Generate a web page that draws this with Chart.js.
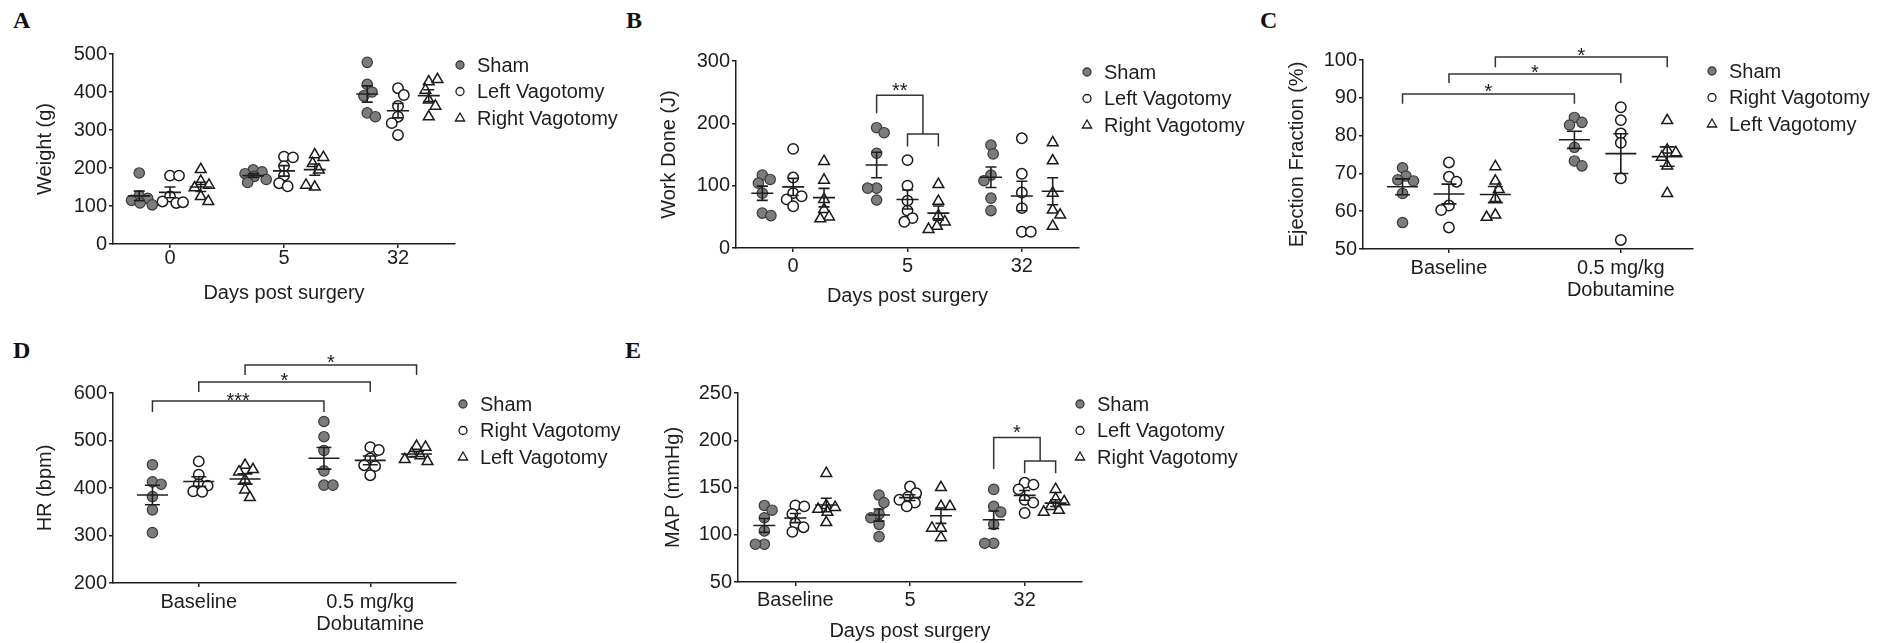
<!DOCTYPE html>
<html>
<head>
<meta charset="utf-8">
<script src="https://cdn.jsdelivr.net/npm/chart.js@4.4.1/dist/chart.umd.min.js"></script>
<style>
  body { margin: 0; width: 1894px; height: 643px; background: #fff; position: relative; overflow: hidden; }
  canvas { position: absolute; }
  .tag { position: absolute; font: bold 24px "Liberation Serif", "Times New Roman", serif; line-height: 24px; color: #111; }
</style>
</head>
<body>
<div class="tag" style="left:13px;top:8px">A</div>
<div class="tag" style="left:626px;top:8px">B</div>
<div class="tag" style="left:1260px;top:8px">C</div>
<div class="tag" style="left:13px;top:338px">D</div>
<div class="tag" style="left:625px;top:338px">E</div>

<canvas id="chartA" width="640" height="320" style="left:0;top:0"></canvas>
<canvas id="chartB" width="620" height="320" style="left:640px;top:0"></canvas>
<canvas id="chartC" width="634" height="320" style="left:1260px;top:0"></canvas>
<canvas id="chartD" width="620" height="313" style="left:0;top:330px"></canvas>
<canvas id="chartE" width="640" height="313" style="left:620px;top:330px"></canvas>

<script>
// ---- data (each inner array = one group at one time point) ----
const groupOffset = [-0.27, 0, 0.27];   // sham / circle group / triangle group

// A: body weight
const catsA = ['0', '5', '32'];
const legendA = ['Sham', 'Left Vagotomy', 'Right Vagotomy'];
const shamA  = [[187, 127, 120, 115, 108, 103], [195, 190, 185, 178, 170, 162], [478, 420, 400, 390, 345, 335]];
const leftA  = [[180, 180, 125, 112, 108, 110], [230, 228, 205, 180, 160, 152], [410, 392, 363, 335, 318, 287]];
const rightA = [[196, 165, 155, 148, 125, 112], [235, 228, 212, 195, 150, 155], [427, 433, 405, 379, 363, 335]];
const bracketsA = [];

// B: work done
const catsB = ['0', '5', '32'];
const legendB = ['Sham', 'Left Vagotomy', 'Right Vagotomy'];
const shamB  = [[117, 110, 104, 88, 56, 52], [193, 185, 152, 96, 96, 77], [165, 151, 117, 108, 80, 60]];
const leftB  = [[159, 113, 88, 83, 78, 67], [141, 100, 76, 60, 48, 42], [176, 119, 89, 64, 26, 26]];
const rightB = [[139, 109, 78, 62, 50, 47], [102, 75, 52, 42, 35, 30], [169, 140, 88, 61, 53, 35]];
const bracketsB = [
  { a: [1, 0], b: [1, 1.5], top: 245, ends: [216, 183], text: '**', textY: 261 },
  { a: [1, 1], b: [1, 2], top: 183, ends: [163, 163] },
];

// C: ejection fraction
const catsC = ['Baseline', ['0.5 mg/kg', 'Dobutamine']];
const legendC = ['Sham', 'Right Vagotomy', 'Left Vagotomy'];
const shamC  = [[71.5, 69.3, 68.3, 68, 64.7, 57], [84.8, 83.5, 82.8, 76.9, 73.3, 72]];
const rightC = [[72.9, 69.1, 67.8, 61.5, 60.3, 55.7], [87.5, 84.1, 80.6, 78.1, 68.7, 52.4]];
const leftC  = [[71.8, 68, 65.8, 63.4, 59, 58.4], [84, 76.2, 75.5, 74.3, 72, 64.7]];
const bracketsC = [
  { a: [0, 0], b: [1, 0], top: 91, ends: [88.4, 88.4], text: '*', textY: 92.9 },
  { a: [0, 1], b: [1, 1], top: 96.3, ends: [93.9, 93.9], text: '*', textY: 98.1 },
  { a: [0, 2], b: [1, 2], top: 100.8, ends: [98.1, 98.1], text: '*', textY: 102.5 },
];

// D: heart rate
const catsD = ['Baseline', ['0.5 mg/kg', 'Dobutamine']];
const legendD = ['Sham', 'Right Vagotomy', 'Left Vagotomy'];
const shamD  = [[449, 413, 408, 382, 354, 306], [540, 508, 479, 436, 406, 406]];
const rightD = [[456, 428, 408, 405, 393, 392], [486, 480, 462, 448, 446, 427]];
const leftD  = [[448, 439, 434, 417, 396, 380], [488, 486, 472, 468, 460, 456]];
const bracketsD = [
  { a: [0, 0], b: [1, 0], top: 583, ends: [560, 560], text: '***', textY: 596 },
  { a: [0, 1], b: [1, 1], top: 623, ends: [602, 602], text: '*', textY: 638 },
  { a: [0, 2], b: [1, 2], top: 659, ends: [638, 638], text: '*', textY: 674 },
];

// E: mean arterial pressure
const catsE = ['Baseline', '5', '32'];
const legendE = ['Sham', 'Left Vagotomy', 'Right Vagotomy'];
const shamE  = [[131, 126, 118, 104, 90, 90], [142, 134, 122, 118, 111, 98], [148, 130, 124, 111, 91, 91]];
const leftE  = [[131, 130, 122, 112, 108, 103], [151, 144, 140, 137, 134, 130], [155, 153, 148, 137, 134, 123]];
const rightE = [[165, 131, 129, 127, 124, 113], [150, 130, 130, 107, 107, 97], [148, 138, 135, 130, 126, 124]];
const bracketsE = [
  { a: [2, 0], b: [2, 1.5], top: 203, ends: [169.6, 178], text: '*', textY: 213.7 },
  { a: [2, 1], b: [2, 2], top: 178, ends: [165, 165] },
];

// ---- styling ----
const ink = '#1e1e1e';
const FONT = '"Liberation Sans", Arial, Helvetica, sans-serif';
Chart.defaults.font.family = FONT;
Chart.defaults.font.size = 20;
Chart.defaults.color = ink;

const markerStyles = [
  { pointStyle: 'circle', pointRadius: 5.2, pointBackgroundColor: '#7c7c7c', pointBorderColor: '#3a3a3a', pointBorderWidth: 1.2 },
  { pointStyle: 'circle', pointRadius: 5.2, pointBackgroundColor: '#ffffff', pointBorderColor: '#1a1a1a', pointBorderWidth: 1.5 },
  { pointStyle: 'triangle', pointRadius: 6.2, pointBackgroundColor: '#ffffff', pointBorderColor: '#1a1a1a', pointBorderWidth: 1.5 },
];

function mean(a) { return a.reduce((s, v) => s + v, 0) / a.length; }
function sem(a) {
  const m = mean(a);
  const v = a.reduce((s, x) => s + (x - m) * (x - m), 0) / (a.length - 1);
  return Math.sqrt(v / a.length);
}
function groupX(cat, g) {
  const lo = Math.floor(g), hi = Math.ceil(g);
  return cat + groupOffset[lo] + (groupOffset[hi] - groupOffset[lo]) * (g - lo);
}

// compact beeswarm: sideways pixel offsets, kept within +-maxOff so groups stay narrow
function swarm(vals, pxY, minD, maxOff) {
  const placed = [];
  let flip = 1;
  return vals.map((v) => {
    const y = v * pxY;
    let cands = [0];
    placed.forEach((p) => {
      const dy = Math.abs(p.y - y);
      if (dy < minD) {
        const w = Math.sqrt(minD * minD - dy * dy);
        cands.push(p.x + w, p.x - w);
      }
    });
    cands = cands.filter((c) => Math.abs(c) <= maxOff);
    cands.push(maxOff, -maxOff);
    cands.sort((a, b) => Math.abs(a) - Math.abs(b) || (b - a) * flip);
    const clearance = (c) => placed.reduce((m, p) => Math.min(m, Math.hypot(p.x - c, p.y - y)), Infinity);
    let x = cands.find((c) => clearance(c) >= minD - 0.01);
    if (x === undefined) x = cands.reduce((best, c) => (clearance(c) > clearance(best) ? c : best), cands[0]);
    if (x !== 0) flip = -flip;
    placed.push({ x, y });
    return x;
  });
}

const groupLegend = {
  id: 'groupLegend',
  afterDraw(chart, args, opts) {
    const { ctx, chartArea } = chart;
    ctx.save();
    ctx.font = '20px ' + FONT;
    ctx.textBaseline = 'middle';
    opts.labels.forEach((lab, i) => {
      const x = chartArea.right + opts.dx;
      const y = chartArea.top + 11 + 26.5 * i;
      ctx.beginPath();
      if (i < 2) {
        ctx.arc(x, y, 4, 0, Math.PI * 2);
      } else {
        ctx.moveTo(x, y - 5);
        ctx.lineTo(x + 4.6, y + 3);
        ctx.lineTo(x - 4.6, y + 3);
        ctx.closePath();
      }
      ctx.fillStyle = i === 0 ? '#7c7c7c' : '#fff';
      ctx.fill();
      ctx.lineWidth = 1.3;
      ctx.strokeStyle = i === 0 ? '#3a3a3a' : '#1a1a1a';
      ctx.stroke();
      ctx.fillStyle = ink;
      ctx.fillText(lab, x + 17, y + 1);
    });
    ctx.restore();
  },
};

const sigText = {
  id: 'sigText',
  afterDatasetsDraw(chart, args, opts) {
    const { ctx, scales } = chart;
    ctx.save();
    ctx.font = '20px ' + FONT;
    ctx.fillStyle = ink;
    ctx.textAlign = 'center';
    ctx.textBaseline = 'alphabetic';
    opts.items.forEach((b) => {
      if (!b.text) return;
      const x = (groupX(b.a[0], b.a[1]) + groupX(b.b[0], b.b[1])) / 2;
      ctx.fillText(b.text, scales.x.getPixelForValue(x), scales.y.getPixelForValue(b.textY) + 11.6);
    });
    ctx.restore();
  },
};

function buildPanel(id, p) {
  const cv = document.getElementById(id);
  const W = cv.width, H = cv.height;
  const xMin = -0.5, xMax = p.xMax !== undefined ? p.xMax : p.cats.length - 0.5;
  const plotW = W - p.yW - p.padRight, plotH = H - p.padTop - p.xH;
  const pxX = plotW / (xMax - xMin), pxY = plotH / (p.yMax - p.yMin);
  const datasets = [];

  p.groups.forEach((grp, g) => {
    const pts = [];
    grp.forEach((vals, c) => {
      const dx = swarm(vals, pxY, 9, 13);
      vals.forEach((v, i) => pts.push({ x: c + groupOffset[g] + dx[i] / pxX, y: v }));
    });
    datasets.push(Object.assign({ type: 'scatter', data: pts, order: 1, clip: false }, markerStyles[g]));
  });

  const gap = (x) => ({ x, y: null });
  const segs = [];
  const hw = p.meanHalf / pxX, cw = p.capHalf / pxX;
  p.groups.forEach((grp, g) => grp.forEach((vals, c) => {
    const cx = c + groupOffset[g], m = mean(vals), e = sem(vals);
    segs.push({ x: cx - hw, y: m }, { x: cx + hw, y: m }, gap(cx),
      { x: cx, y: m - e }, { x: cx, y: m + e }, gap(cx),
      { x: cx - cw, y: m + e }, { x: cx + cw, y: m + e }, gap(cx),
      { x: cx - cw, y: m - e }, { x: cx + cw, y: m - e }, gap(cx));
  }));
  datasets.push({ type: 'line', data: segs, borderColor: ink, borderWidth: 1.6, pointRadius: 0, spanGaps: false, fill: false, order: 0 });

  const br = [];
  p.brackets.forEach((b) => {
    const x1 = groupX(b.a[0], b.a[1]), x2 = groupX(b.b[0], b.b[1]);
    br.push({ x: x1, y: b.ends[0] }, { x: x1, y: b.top }, { x: x2, y: b.top }, { x: x2, y: b.ends[1] }, gap(x2));
  });
  if (br.length) {
    datasets.push({ type: 'line', data: br, borderColor: '#333', borderWidth: 1.5, pointRadius: 0, spanGaps: false, fill: false, order: 0, clip: false });
  }

  new Chart(cv, {
    type: 'scatter',
    data: { datasets },
    options: {
      responsive: false,
      animation: false,
      devicePixelRatio: 1,
      events: [],
      layout: { padding: { top: p.padTop, right: p.padRight, left: 0, bottom: 0 } },
      plugins: {
        legend: { display: false },
        tooltip: { enabled: false },
        groupLegend: { labels: p.legend, dx: p.legendDx },
        sigText: { items: p.brackets },
      },
      scales: {
        x: {
          type: 'linear',
          min: xMin,
          max: xMax,
          afterBuildTicks: (ax) => { ax.ticks = p.cats.map((c, i) => ({ value: i })); },
          afterFit: (ax) => { ax.height = p.xH; },
          ticks: {
            autoSkip: false, maxRotation: 0, minRotation: 0,
            padding: p.xTickPad, color: ink,
            font: { size: 20, lineHeight: 1.1 },
            callback: (v, i) => p.cats[i],
          },
          grid: { drawOnChartArea: false, drawTicks: true, tickLength: 4, color: ink, lineWidth: 1.5 },
          border: { display: true, color: ink, width: 1.5 },
          title: {
            display: !!p.xTitle, text: p.xTitle || '', color: ink,
            font: { size: 20, lineHeight: 1.2 }, padding: { top: 0, bottom: p.xTitlePad || 0 },
          },
        },
        y: {
          type: 'linear',
          min: p.yMin,
          max: p.yMax,
          afterFit: (ax) => { ax.width = p.yW; },
          ticks: { stepSize: p.yStep, padding: 2, color: ink, font: { size: 20 } },
          grid: { drawOnChartArea: false, drawTicks: true, tickLength: 4, color: ink, lineWidth: 1.5 },
          border: { display: true, color: ink, width: 1.5 },
          title: {
            display: true, text: p.yTitle, color: ink,
            font: { size: 20, lineHeight: 1.2 }, padding: { top: p.yTitlePad, bottom: 0 },
          },
        },
      },
    },
    plugins: [groupLegend, sigText],
  });
}

buildPanel('chartA', {
  cats: catsA, legend: legendA, groups: [shamA, leftA, rightA], brackets: bracketsA,
  yMin: 0, yMax: 500, yStep: 100, yTitle: 'Weight (g)', xTitle: 'Days post surgery',
  yW: 113, padTop: 54, padRight: 185, xH: 76, xTickPad: -1, xTitlePad: 15, yTitlePad: 33,
  meanHalf: 11, capHalf: 5.5, legendDx: 5,
});
buildPanel('chartB', {
  cats: catsB, legend: legendB, groups: [shamB, leftB, rightB], brackets: bracketsB,
  yMin: 0, yMax: 300, yStep: 100, yTitle: 'Work Done (J)', xTitle: 'Days post surgery',
  yW: 96, padTop: 61, padRight: 181, xH: 72, xTickPad: 3, xTitlePad: 12, yTitlePad: 17,
  meanHalf: 11, capHalf: 5.5, legendDx: 8,
});
buildPanel('chartC', {
  cats: catsC, legend: legendC, groups: [shamC, rightC, leftC], brackets: bracketsC,
  yMin: 50, yMax: 100, yStep: 10, yTitle: 'Ejection Fraction (%)', xMax: 1.42,
  yW: 103, padTop: 60, padRight: 201, xH: 71, xTickPad: 4, yTitlePad: 25,
  meanHalf: 15.5, capHalf: 7.5, legendDx: 19,
});
buildPanel('chartD', {
  cats: catsD, legend: legendD, groups: [shamD, rightD, leftD], brackets: bracketsD,
  yMin: 200, yMax: 600, yStep: 100, yTitle: 'HR (bpm)',
  yW: 113, padTop: 63, padRight: 164, xH: 60, xTickPad: 4, yTitlePad: 33,
  meanHalf: 15.5, capHalf: 7.5, legendDx: 7,
});
buildPanel('chartE', {
  cats: catsE, legend: legendE, groups: [shamE, leftE, rightE], brackets: bracketsE,
  yMin: 50, yMax: 250, yStep: 50, yTitle: 'MAP (mmHg)', xTitle: 'Days post surgery',
  yW: 118, padTop: 63, padRight: 178, xH: 61, xTickPad: 3, xTitlePad: 0, yTitlePad: 41,
  meanHalf: 11, capHalf: 5.5, legendDx: -2,
});
</script>
</body>
</html>
